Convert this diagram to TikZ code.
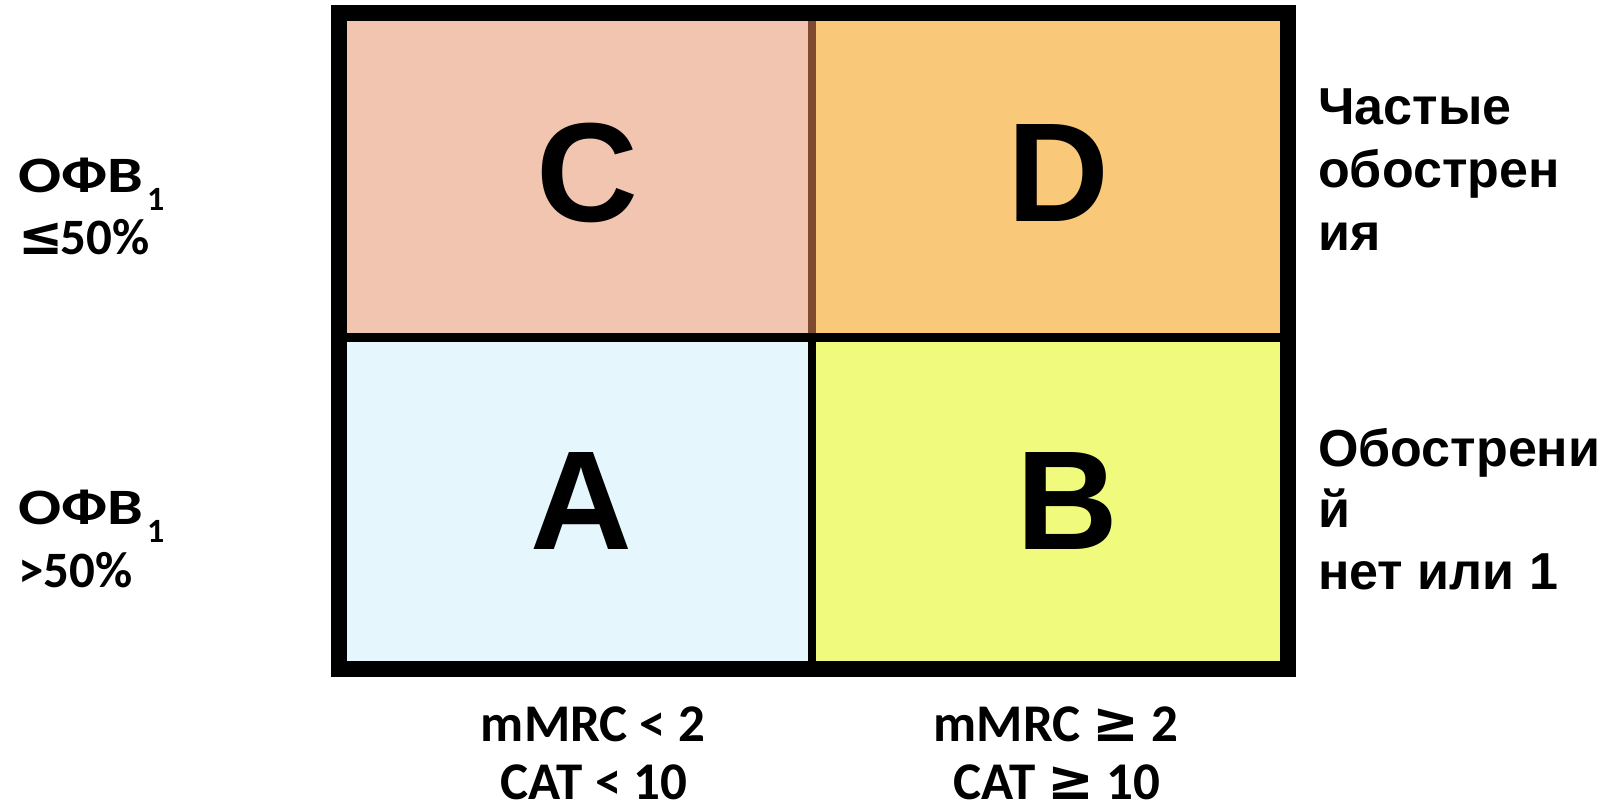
\documentclass[tikz,border=0pt]{standalone}
\usepackage{fontspec}
\usepackage{graphicx}
\newfontfamily\calfont{Carlito}
\newfontfamily\arialfont{Liberation Sans}
\newfontfamily\symfont{DejaVu Sans}
\definecolor{cellC}{HTML}{F2C5B0}
\definecolor{cellD}{HTML}{F9C878}
\definecolor{cellA}{HTML}{E6F6FD}
\definecolor{cellB}{HTML}{F0FA7C}
\definecolor{divbrown}{HTML}{7E4B30}
% subscript one after the spirometry abbreviation
\newcommand{\subone}{\kern4pt\raisebox{-18pt}{\fontsize{34}{34}\selectfont 1}}
% wide set abbreviation
\newcommand{\fev}{\scalebox{1.25}[1]{ОФВ}}
% heavier relation signs
\newcommand{\lesym}{{\symfont\bfseries\fontsize{54}{54}\selectfont ≤}}
\newcommand{\gesym}{{\symfont\bfseries\fontsize{56}{56}\selectfont ≥}}
\tikzset{
  letter/.style={anchor=base, inner sep=0pt, font=\arialfont\bfseries\fontsize{141}{141}\selectfont},
  rlab/.style={anchor=base west, inner sep=0pt, font=\arialfont\bfseries\fontsize{52}{52}\selectfont},
  llab/.style={anchor=base west, inner sep=0pt, font=\calfont\bfseries\fontsize{51}{51}\selectfont},
  blab/.style={anchor=base, inner sep=0pt, font=\calfont\bfseries\fontsize{53}{53}\selectfont},
}
\begin{document}
\begin{tikzpicture}[x=1pt,y=-1pt]
\useasboundingbox (0,0) rectangle (1611,808);
% quadrant fills
\fill[cellC] (347,21) rectangle (811.5,337.5);
\fill[cellD] (811.5,21) rectangle (1280,337.5);
\fill[cellA] (347,337.5) rectangle (811.5,661);
\fill[cellB] (811.5,337.5) rectangle (1280,661);
% dividers
\draw[divbrown, line width=8pt] (811.5,21) -- (811.5,333);
\draw[black, line width=8pt] (811.5,337.5) -- (811.5,661);
\draw[black, line width=9pt] (347,337.5) -- (1280,337.5);
% outer frame
\draw[black, line width=16pt] (339,13) rectangle (1288,669);
% quadrant letters
\node[letter] (C) at (587,221) {C};
\node[letter] (D) at (1058,221) {D};
\node[letter] (A) at (581,549) {A};
\node[letter] (B) at (1067,549) {B};
% right-hand labels
\node[rlab] (r1) at (1318,124) {Частые};
\node[rlab] (r2) at (1318,187) {обострен};
\node[rlab] (r3) at (1318,250) {ия};
\node[rlab] (r4) at (1318,466) {Обострени};
\node[rlab] (r5) at (1318,527) {й};
\node[rlab] (r6) at (1318,589) {нет или 1};
% left-hand labels
\node[llab] (l1) at (18,192) {\fev\subone};
\node[llab] (l2) at (18,254) {\lesym\kern-3pt 50\%};
\node[llab] (l3) at (18,524) {\fev\subone};
\node[llab] (l4) at (18,587) {>50\%};
% bottom labels
\node[blab] (b1) at (593,741) {mMRC < 2};
\node[blab] (b2) at (594,799) {CAT < 10};
\node[blab] (b3) at (1056,741) {mMRC \gesym\ 2};
\node[blab] (b4) at (1057,799) {CAT \gesym\ 10};
\end{tikzpicture}
\end{document}
